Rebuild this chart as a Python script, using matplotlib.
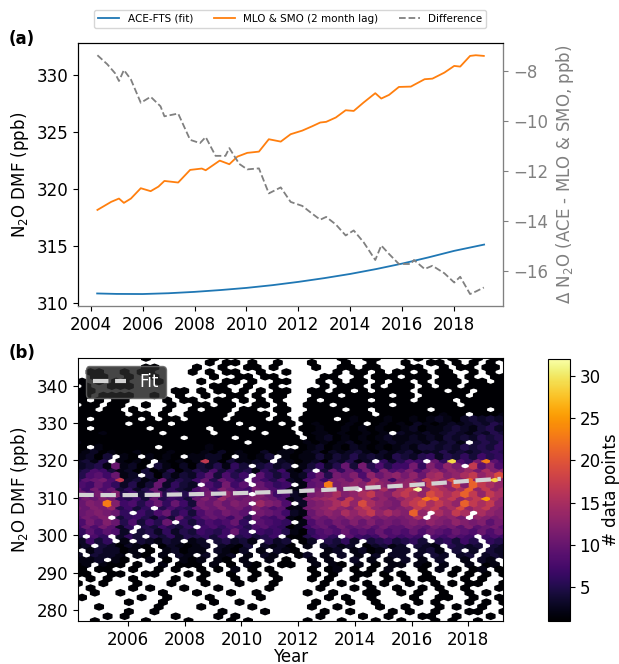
import numpy as np
import matplotlib
matplotlib.use("Agg")
import matplotlib.pyplot as plt

plt.rcParams['font.size'] = 12

# ---------------- panel (a) ----------------
# quadratic fit of ACE-FTS, read at yearly steps
fit_year = [2004.25, 2005, 2006, 2007, 2008, 2009, 2010, 2011, 2012, 2013,
            2014, 2015, 2016, 2017, 2018, 2019.15]
fit_dmf = [310.80, 310.76, 310.75, 310.82, 310.94, 311.10, 311.29, 311.53,
           311.82, 312.15, 312.52, 312.95, 313.43, 313.97, 314.55, 315.10]

# MLO & SMO surface record (2 month lag)
obs_year = [2004.26, 2004.79, 2005.09, 2005.28, 2005.55, 2005.93, 2006.31, 2006.61,
            2006.84, 2007.37, 2007.83, 2008.28, 2008.43, 2008.97, 2009.34, 2009.65,
            2010.03, 2010.48, 2010.86, 2011.32, 2011.70, 2012.15, 2012.53, 2012.84,
            2013.07, 2013.44, 2013.82, 2014.13, 2014.51, 2014.96, 2015.19, 2015.49,
            2015.87, 2016.33, 2016.45, 2016.86, 2017.16, 2017.62, 2018.0, 2018.23,
            2018.61, 2018.83, 2019.14]
obs_dmf = [318.15, 318.86, 319.15, 318.77, 319.15, 320.06, 319.80, 320.20,
           320.70, 320.56, 321.67, 321.79, 321.64, 322.49, 322.17, 322.84,
           323.17, 323.28, 324.37, 324.16, 324.81, 325.13, 325.51, 325.84,
           325.90, 326.28, 326.92, 326.86, 327.60, 328.42, 327.95, 328.27,
           328.97, 329.00, 329.15, 329.65, 329.70, 330.23, 330.82, 330.76,
           331.70, 331.76, 331.70]

# difference ACE - MLO & SMO
diff_year = [2004.26, 2004.64, 2004.94, 2005.09, 2005.28, 2005.55, 2005.93, 2006.31,
             2006.69, 2006.84, 2007.37, 2007.83, 2008.21, 2008.43, 2008.81, 2009.19,
             2009.34, 2009.72, 2010.03, 2010.48, 2010.86, 2011.32, 2011.70, 2012.15,
             2012.53, 2012.84, 2013.07, 2013.44, 2013.82, 2014.13, 2014.51, 2014.96,
             2015.19, 2015.49, 2015.87, 2016.33, 2016.45, 2016.86, 2017.16, 2017.62,
             2018.0, 2018.23, 2018.61, 2018.83, 2019.14]
diff_dmf = [-7.37, -7.73, -8.09, -8.40, -7.96, -8.34, -9.27, -9.03,
            -9.41, -9.81, -9.70, -10.75, -10.88, -10.64, -11.39, -11.39,
            -11.08, -11.71, -11.93, -11.89, -12.89, -12.65, -13.23, -13.39,
            -13.70, -13.94, -13.83, -14.13, -14.57, -14.37, -14.84, -15.55,
            -14.97, -15.31, -15.71, -15.71, -15.55, -15.91, -15.78, -16.08,
            -16.45, -16.22, -16.91, -16.81, -16.65]

# ---------------- panel (b) ----------------
year_min, year_max = 2004.23, 2019.24
dmf_min, dmf_max = 277.1, 347.4
grid_nx = 50
grid_ny = 28

# counts per hexagon, top row first; '.' = no data, other chars base-36 counts
# rows alternate between the two hex lattices (51 / 50 cells)
hex_rows = [
    "..... ...1..... ..1........ .. ....1..11.. ..1...1..1.11",
    "..... ......... .1.11.1..1. .. 1...1..1... 1..11.1.1.1.",
    "..... ...11.... 1..1..11.1. .. .1..11.11.. .11..1.11.11.",
    ".11.. 1.11....1 .1.11..1..1 .. ...1.11.1.1 1.1.11..1.1.",
    "..11. .1..1.... ..1..11.11. .. ..11..1.111 .111.11.1..11",
    "1.1.1 1...1.... 1..11.1..11 .. .1.1.11.1.1 1.1.111.11.1",
    ".1..1 11....... ..11..1..1. .. ..1.111.1.1 11.1.11.11111",
    "11... ......11. 1.11.1.1.11 .. 11.11.1.111 1.111.11.111",
    "11.11 11..1..1. .1..11.1.11 .. .111.11111. 11.11111.1111",
    "1.1.1 1....1.11 ..11.1.1.1. .. 1.11111.111 1.1111.11111",
    ".11.1 1..1..1.. 11.11..11.1 .. 111.111111. 1111111.11111",
    "11.11 .1...1..1 .111.11..11 .. 1111.11.111 111.111111.1",
    "11111 1.11.1..1 1111.1111.1 .. 11111111.11 11111211.1112",
    "1.111 11.1.11.1 111.1111.11 .1 111.1211121 121232134343",
    "11111 1.1111.11 11111.1111. 1. 1211121.121 2132123234354",
    "1.111 111.11111 1.1111.1111 .1 12112121211 231223432453",
    "11121 11111.111 11.11111.11 1. 1221211212. 3223234324354",
    "11111 1111111.1 1111.111111 1. 12312121232 232324343545",
    "21111 111111111 111111.1111 11 21212312123 23324342.4546",
    "1.211 1111.1111 1211111111. .1 23121321212 324434354546",
    "12312 112111211 12131211312 21 23132342132 3423353434565",
    "2314. 21.2121.2 2331.2124.2 12 24243534325 435635464756",
    "3425. 2121.2121 2h3142232.3 21 23143523.63 587.a6t86bn97",
    "3452a 231.42131 435264.4534 .2 4635a4b5857 7b6c9db.h9c8",
    "45874 231412513 54846452647 21 5.4a6a7b6c8 9c8bdbdcebfcd",
    "5897a 23.414243 694857.9646 23 7a5bac8dacd bdaefcdfhdfj",
    "69ab8 h3423a354 7a5a86.9758 32 8a7bcad9fc7 cdbhfdjcldhtd",
    "87a86 3524a3643 .86b79.a867 .2 9anbcdcfdcd dfchfdjclhfd",
    "a7b8a 4635a4643 8a7ca87ba87 22 abcdbf.dcfb fhwdhfdfldhdf",
    "a8b9c 5746a5757 9b7dba.ca78 32 bcdfcdfhdcf hfdjhfhlhdhf",
    "9bacb 6574a5764 acaebabcba8 23 cdefbhdfcdb dfhnlfhdfhpfd",
    "acbnc 7858a6a74 bacacb.ecb8 .3 bcdfhdjfdcb fhjfhfdlhfhd",
    "bacbd 5746.5865 9bacab9ca89 22 bcdfdcfhdcb cdhfhdfjdfhdc",
    "abcba 6.758a574 8a9ba9.ba97 32 acdcfdfhdfd cld.fdhf.fdc",
    "9bac. 4675364a5 79a97a5a879 21 9bacbdcdbcb bcf.dcdb.dcbc",
    "8b9ca 58475a.64 6878a6.9876 .2 8a9bacacaba bcbdcbdcbc9b",
    "7a8b9 36.547546 .7868758976 12 79a8b9ab9b9 9ba9bab9c9ab9",
    "69798 3.4536354 7657a6.7675 21 6898a898a89 8a8a98a98a8a",
    "5.86. 364.54635 5647.56457. 11 5786.9767a8 787.87987.787",
    "3746. 2.43243.2 3.45342.534 .1 3.5463.4564 564.56475.65",
    "23.43 1321.1321 23.3214.323 1. 2.3423.1342 3.432.5434.43",
    ".2433 12.1.2312 2.3213.2.32 1. ..23.2312.3 3.342.4.3.43",
    "3.433 2.21.2.32 .3.23.2.32. .1 3.2.3.2.3.3 3.3.43.34.343",
    "223.2 1..2.1.21 2.21.2..2.1 .. 2.2..3.2.2. 3.2.3..2.32.",
    "12.21 1.1..2.11 1.2.1.21..1 1. .2.21.2.1.2 2.21.2..2.12.",
    "1.11. .1..1.1.. 1.1.2.1.1.. .. 1.12.1.1.2. ..1.2.1.12.1",
    "11..1 1..11...1 .1..1..1.1. .. .1.1..11.1. 1..1..1.1.1.1",
    ".1.1. .1....1.. 1...1.1..1. .. 1.1..1...1. 1.11...1.1..",
    "1..1. ..1...1.. .1...1...1. .. ..1.1..1.1. .1..1.1.11..1",
    ".1... .1.1...1. ..1.....1.. .. .1...1.1..1 ..1.1..1...1",
    "..1.. 1....1... 1...1..1... .. 1..1...11.. 1.1..1..1.1..",
    "1.... ..1..1... .1.....1... .. ..1.1..1... .1..11..1..1",
    "..... .1...1... ..1..1..... .. .1...1..1.. ..1.1...1.1.1",
    "..1.. ....1.... 1.....1.... .. 1..1....1.. 1...1.1..1..",
    "..... .1..1.... ...1....1.. .. ..1..1....1 .1..1...11..1",
    "...1. 1.....1.. ..1.1...... .. .1....1..1. ..11..1...1.",
    "..1.. ...1....1 ....1.1.... .. 1...1...1.. 1...1.1..1...",
]

# hex centres in data units (year, ppb) with their counts
sx = (year_max - year_min) / grid_nx
sy = (dmf_max - dmf_min) / grid_ny
hx, hy, hc = [], [], []
for r, row in enumerate(hex_rows):
    cells = row.replace(" ", "")
    ncell = grid_nx + 1 if r % 2 == 0 else grid_nx
    cells = cells.ljust(ncell, ".")[:ncell]
    for i, ch in enumerate(cells):
        if ch == ".":
            continue
        hx.append(year_min + (i + 0.5 * (r % 2)) * sx)
        hy.append(dmf_max - r * sy / 2)
        hc.append(int(ch, 36))

fig = plt.figure(figsize=(6.19, 6.64), dpi=100)

# ---- (a) ----
ax1 = fig.add_axes([0.1257, 0.5392, 0.6876, 0.3956])
l1, = ax1.plot(fit_year, fit_dmf, color='tab:blue', lw=1.3)
l2, = ax1.plot(obs_year, obs_dmf, color='tab:orange', lw=1.3)
ax1.set_ylabel('N$_2$O DMF (ppb)')
ax1.set_xticks(range(2004, 2019, 2))

ax2 = ax1.twinx()
l3, = ax2.plot(diff_year, diff_dmf, color='gray', ls='--', lw=1.3)
ax2.set_ylabel('Δ N$_2$O (ACE - MLO & SMO, ppb)', color='gray')
ax2.tick_params(axis='y', colors='gray')
ax2.spines['right'].set_color('gray')
ax2.spines['bottom'].set_color('gray')

fig.legend([l1, l2, l3], ['ACE-FTS (fit)', 'MLO & SMO (2 month lag)', 'Difference'],
           loc='center', bbox_to_anchor=(0.469, 0.9717), ncol=3, fontsize=7.5)
fig.text(0.014, 0.942, '(a)', fontweight='bold', va='center')

# ---- (b) ----
ax3 = fig.add_axes([0.1257, 0.0648, 0.6876, 0.3961])
hb = ax3.hexbin(hx, hy, C=hc, reduce_C_function=np.sum, gridsize=grid_nx,
                extent=(year_min, year_max, dmf_min, dmf_max),
                cmap='inferno', vmin=1, vmax=32)
ax3.plot(fit_year, fit_dmf, color='lightgray', ls='--', lw=3, label='Fit')
ax3.set_xlim(year_min, year_max)
ax3.set_ylim(dmf_min, dmf_max)
ax3.set_xticks(range(2006, 2019, 2))
ax3.set_yticks(range(280, 341, 10))
ax3.set_xlabel('Year', labelpad=-0.8)
ax3.set_ylabel('N$_2$O DMF (ppb)')
leg = ax3.legend(loc='upper left', facecolor='0.15', framealpha=0.85,
                 labelcolor='white', edgecolor='0.4')

cax = fig.add_axes([0.8847, 0.0648, 0.0357, 0.3946])
cb = fig.colorbar(hb, cax=cax)
cb.set_ticks([5, 10, 15, 20, 25, 30])
cb.set_label('# data points', labelpad=1)
fig.text(0.014, 0.4684, '(b)', fontweight='bold', va='center')

fig.savefig('out.png', dpi=100)
